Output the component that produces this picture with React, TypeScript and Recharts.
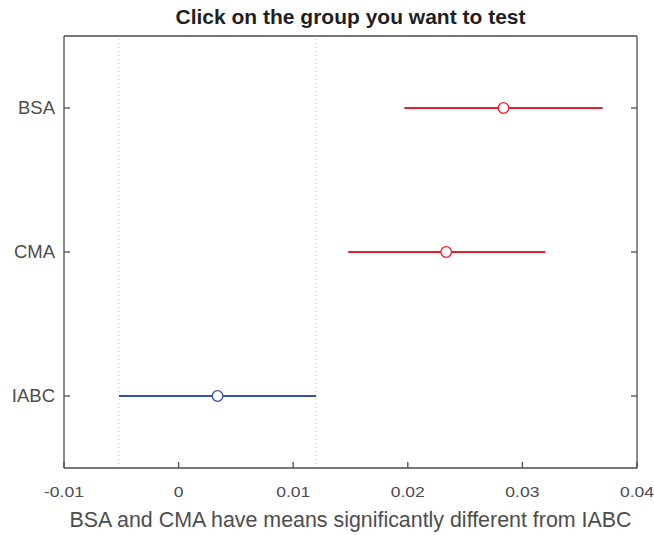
import { ScatterChart, Scatter, XAxis, YAxis, ErrorBar, ReferenceLine } from 'recharts';

// group means with their comparison intervals (bottom to top)
const groups = ['IABC', 'CMA', 'BSA'];
const positions = [1, 2, 3];
const means = [0.0034, 0.02335, 0.02835];
const lower = [-0.0052, 0.0148, 0.0197];
const upper = [0.012, 0.032, 0.037];
const differsFromTest = [false, true, true];
const xTicks = [-0.01, 0, 0.01, 0.02, 0.03, 0.04];

const TITLE = 'Click on the group you want to test';
const XLABEL = 'BSA and CMA have means significantly different from IABC';

const RED = '#ee1c24';
const BLUE = '#3751a3';
const AXIS = '#4d4d4d';
const TEXT = '#4d4d4d';
const FONT = '"Liberation Sans", Arial, Helvetica, sans-serif';
const TICK_LEN = 6;

const rows = groups.map((name, i) => ({
  name,
  x: means[i],
  y: positions[i],
  err: [means[i] - lower[i], upper[i] - means[i]],
  differs: differsFromTest[i],
}));
const redRows = rows.filter(r => r.differs);
const blueRows = rows.filter(r => !r.differs);

const testGroup = groups.indexOf('IABC');

// x tick numbers are set a little wider than the font's natural width
const BottomTick = (p: any) => (
  <g>
    <line x1={p.x} y1={p.y} x2={p.x} y2={p.y - TICK_LEN} stroke={AXIS} strokeWidth={1.3} />
    <text
      transform={`translate(${p.x},${p.y + 28.5}) scale(1.17,1)`}
      textAnchor="middle"
      fontSize={15}
      fill={TEXT}
      fontFamily={FONT}
    >
      {p.payload.value}
    </text>
  </g>
);

const TopTick = (p: any) => (
  <line x1={p.x} y1={p.y} x2={p.x} y2={p.y + TICK_LEN} stroke={AXIS} strokeWidth={1.3} />
);

const LeftTick = (p: any) => (
  <g>
    <line x1={p.x} y1={p.y} x2={p.x + TICK_LEN} y2={p.y} stroke={AXIS} strokeWidth={1.3} />
    <text x={p.x - 9} y={p.y} dy="0.35em" textAnchor="end" fontSize={18.5} fill={TEXT} fontFamily={FONT}>
      {groups[positions.indexOf(p.payload.value)]}
    </text>
  </g>
);

const RightTick = (p: any) => (
  <line x1={p.x} y1={p.y} x2={p.x - TICK_LEN} y2={p.y} stroke={AXIS} strokeWidth={1.3} />
);

const marker = (color: string) => (p: any) => (
  <circle cx={p.cx} cy={p.cy} r={5.3} fill="#fff" stroke={color} strokeWidth={1.3} />
);

export default function App() {
  return (
    <div style={{ position: 'absolute', left: 0, top: 0, width: 654, height: 535, background: '#fff', fontFamily: FONT }}>
      <div
        style={{
          position: 'absolute',
          left: 64,
          width: 573,
          top: 6,
          textAlign: 'center',
          fontSize: 21,
          lineHeight: '21px',
          fontWeight: 'bold',
          color: '#1f1f1f',
        }}
      >
        {TITLE}
      </div>
      <ScatterChart width={654} height={535} margin={{ top: 0, right: 0, bottom: 0, left: 0 }}>
        <XAxis
          dataKey="x"
          type="number"
          domain={[-0.01, 0.04]}
          ticks={xTicks}
          allowDataOverflow
          height={67}
          tickSize={0}
          tickMargin={0}
          tick={BottomTick}
          stroke={AXIS}
          strokeWidth={1.3}
          label={{ value: XLABEL, position: 'insideBottom', offset: 8, fontSize: 21.4, fill: TEXT, fontFamily: FONT }}
        />
        <XAxis
          xAxisId="top"
          orientation="top"
          type="number"
          domain={[-0.01, 0.04]}
          ticks={xTicks}
          allowDataOverflow
          height={36}
          tickSize={0}
          tickMargin={0}
          tick={TopTick}
          stroke={AXIS}
          strokeWidth={1.3}
        />
        <YAxis
          dataKey="y"
          type="number"
          domain={[0.5, 3.5]}
          ticks={positions}
          allowDataOverflow
          width={64}
          tickSize={0}
          tickMargin={0}
          tick={LeftTick}
          stroke={AXIS}
          strokeWidth={1.3}
        />
        <YAxis
          yAxisId="right"
          orientation="right"
          type="number"
          domain={[0.5, 3.5]}
          ticks={positions}
          allowDataOverflow
          width={17}
          tickSize={0}
          tickMargin={0}
          tick={RightTick}
          stroke={AXIS}
          strokeWidth={1.3}
        />
        <ReferenceLine x={lower[testGroup]} stroke="#c4c4c4" strokeDasharray="1 3" />
        <ReferenceLine x={upper[testGroup]} stroke="#c4c4c4" strokeDasharray="1 3" />
        <Scatter data={blueRows} shape={marker(BLUE)} isAnimationActive={false}>
          <ErrorBar dataKey="err" direction="x" width={0} stroke={BLUE} strokeWidth={2} isAnimationActive={false} />
        </Scatter>
        <Scatter data={redRows} shape={marker(RED)} isAnimationActive={false}>
          <ErrorBar dataKey="err" direction="x" width={0} stroke={RED} strokeWidth={2} isAnimationActive={false} />
        </Scatter>
      </ScatterChart>
    </div>
  );
}
